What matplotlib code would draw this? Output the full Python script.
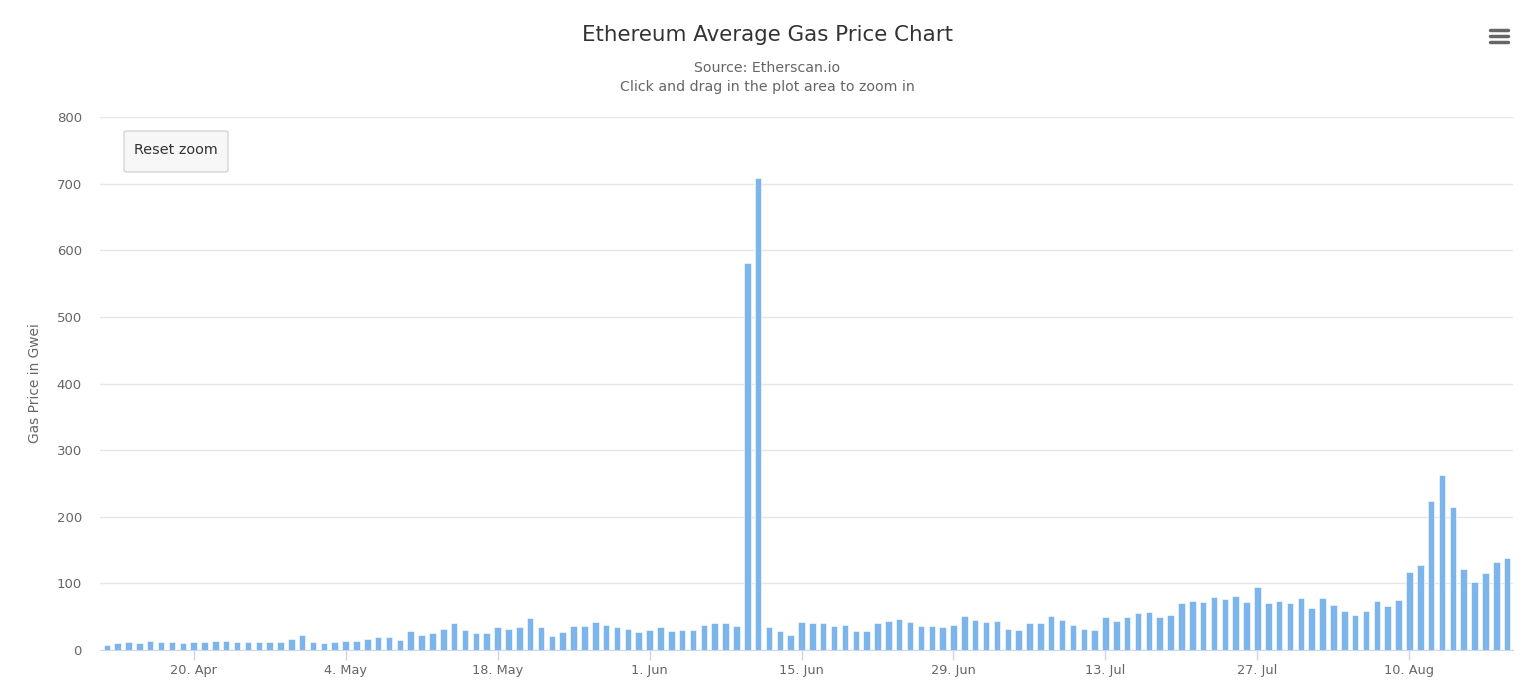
import numpy as np
import pandas as pd
import matplotlib
matplotlib.use("Agg")
import matplotlib.pyplot as plt
from matplotlib.patches import FancyBboxPatch
from matplotlib.lines import Line2D

# Daily average gas price (Gwei), 12 Apr - 19 Aug 2020
gas_price = [
    7, 10, 12, 10, 14, 12, 12, 10, 12, 12, 14, 14, 12, 12, 12, 12, 12, 17, 23,
    12, 10, 12, 14, 14, 17, 19, 19, 15, 28, 23, 25, 32, 40, 30, 25, 25,
    35, 32, 35, 48, 35, 21, 27, 36, 36, 42, 38, 35, 32, 27,
    30, 35, 28, 30, 30, 38, 40, 40, 36, 581, 708, 35, 28, 23,
    42, 40, 40, 36, 38, 28, 28, 40, 44, 46, 42, 36, 36, 35,
    37, 51, 45, 42, 43, 32, 30, 40, 40, 51, 45, 37, 32, 30,
    49, 43, 49, 55, 57, 49, 53, 70, 74, 72, 79, 76, 81, 72,
    95, 70, 74, 70, 78, 63, 78, 68, 59, 53, 59, 74, 66, 75,
    117, 128, 223, 262, 214, 121, 102, 115, 132, 138,
]
dates = pd.date_range("2020-04-12", periods=len(gas_price), freq="D")

tick_dates = pd.to_datetime(["2020-04-20", "2020-05-04", "2020-05-18", "2020-06-01",
                             "2020-06-15", "2020-06-29", "2020-07-13", "2020-07-27",
                             "2020-08-10"])
tick_labels = ["20. Apr", "4. May", "18. May", "1. Jun", "15. Jun",
               "29. Jun", "13. Jul", "27. Jul", "10. Aug"]
y_ticks = [0, 100, 200, 300, 400, 500, 600, 700, 800]

BAR_COLOR = "#7cb5ec"
TEXT_COLOR = "#666666"

plt.rcParams['font.family'] = ['DejaVu Sans']

W, H = 1535, 697
fig = plt.figure(figsize=(W / 100, H / 100), dpi=100)
ax = fig.add_axes([100 / W, 1 - 650 / H, 1413 / W, 533 / H])

ax.bar(dates, gas_price, width=0.6, color=BAR_COLOR, edgecolor="white",
       linewidth=0.4, zorder=3)

ax.set_xlim(dates[0] - pd.Timedelta(hours=15), dates[-1] + pd.Timedelta(hours=13))
ax.set_ylim(0, 800)

# axes styling, highcharts-like
for side in ["top", "right", "left"]:
    ax.spines[side].set_visible(False)
ax.spines["bottom"].set_color("#ccd6eb")
ax.spines["bottom"].set_zorder(4)

ax.set_yticks(y_ticks)
ax.set_yticklabels([str(v) for v in y_ticks])
ax.tick_params(axis="y", length=0, pad=13, labelsize=9.5, labelcolor=TEXT_COLOR)
ax.yaxis.grid(True, color="#e6e6e6", linewidth=1, zorder=0)

ax.set_xticks(tick_dates)
ax.set_xticklabels(tick_labels)
ax.tick_params(axis="x", length=7, width=1, color="#ccd6eb", pad=3,
               labelsize=9.3, labelcolor=TEXT_COLOR)

ax.set_ylabel("Gas Price in Gwei", color=TEXT_COLOR, fontsize=9.9)
ax.yaxis.set_label_coords(-58 / 1413, 0.5)

fig.text(767 / W, 1 - 35 / H, "Ethereum Average Gas Price Chart", ha="center",
         va="center", fontsize=15.4, color="#333333")
fig.text(767 / W, 1 - 68 / H, "Source: Etherscan.io", ha="center", va="center",
         fontsize=10.2, color=TEXT_COLOR)
fig.text(767 / W, 1 - 87 / H, "Click and drag in the plot area to zoom in",
         ha="center", va="center", fontsize=10.2, color=TEXT_COLOR)

# "Reset zoom" button
btn = FancyBboxPatch((124 / W, 1 - 172 / H), 104 / W, 41 / H,
                     boxstyle="round,pad=0,rounding_size=0.002",
                     transform=fig.transFigure, facecolor="#f7f7f7",
                     edgecolor="#cccccc", linewidth=0.8)
fig.add_artist(btn)
fig.text(176 / W, 1 - 150 / H, "Reset zoom", ha="center", va="center",
         fontsize=10.4, color="#333333")

# hamburger menu icon
for yy in [30, 36, 42]:
    fig.add_artist(Line2D([1490 / W, 1508 / W], [1 - yy / H, 1 - yy / H],
                          transform=fig.transFigure, color=TEXT_COLOR,
                          linewidth=2.5, solid_capstyle="round"))

fig.savefig("out.png", dpi=100)
